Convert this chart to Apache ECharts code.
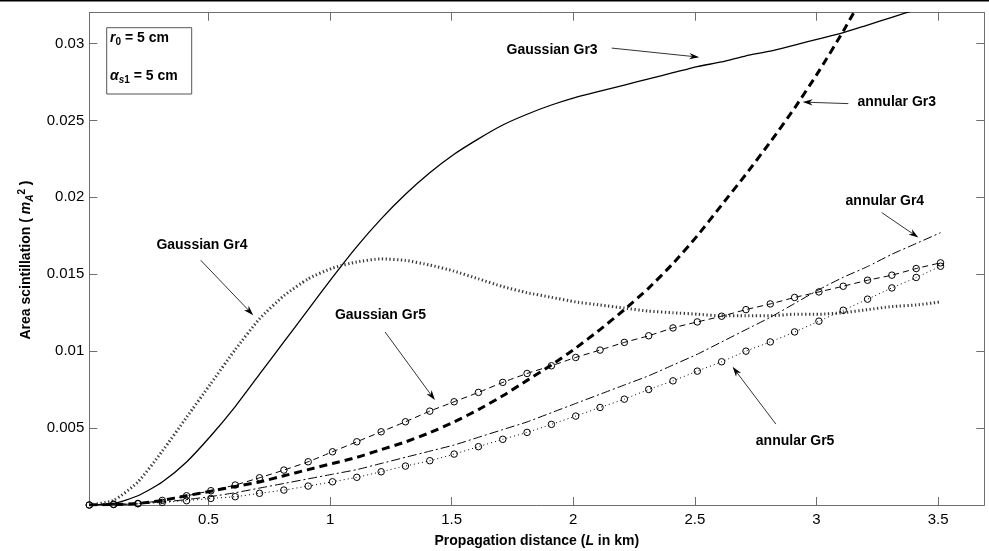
<!DOCTYPE html>
<html>
<head>
<meta charset="utf-8">
<script src="https://cdn.jsdelivr.net/npm/echarts@6/dist/echarts.min.js"></script>
<style>
  html, body { margin: 0; padding: 0; background: #fff; }
  #main { width: 989px; height: 551px; }
</style>
</head>
<body>
<div id="main"></div>
<script>
// propagation distance (km), one sample per 0.1 km
const xs = [0.01, 0.11, 0.21, 0.31, 0.41, 0.51, 0.61, 0.71, 0.81, 0.91,
  1.01, 1.11, 1.21, 1.31, 1.41, 1.51, 1.61, 1.71, 1.81, 1.91,
  2.01, 2.11, 2.21, 2.31, 2.41, 2.51, 2.61, 2.71, 2.81, 2.91,
  3.01, 3.11, 3.21, 3.31, 3.41, 3.51];

const gaussGr3 = [0, 0.0001, 0.0006, 0.0015, 0.0028, 0.0045, 0.0064, 0.0085, 0.0106, 0.0127,
  0.0148, 0.0168, 0.0186, 0.0202, 0.0216, 0.0228, 0.0238, 0.0247, 0.0254, 0.0260,
  0.0265, 0.0269, 0.0273, 0.0277, 0.0281, 0.0285, 0.0288, 0.0292, 0.0295, 0.0299,
  0.0303, 0.0307, 0.0312, 0.0317, 0.0322, 0.0327];

const annGr3 = [0, 0.00003, 0.0001, 0.0003, 0.0006, 0.0009, 0.0012, 0.0015, 0.0019, 0.0023,
  0.0027, 0.0031, 0.0036, 0.0041, 0.0047, 0.0054, 0.0062, 0.0071, 0.0081, 0.0091,
  0.0102, 0.0114, 0.0127, 0.0141, 0.0157, 0.0175, 0.0195, 0.0215, 0.0236, 0.0258,
  0.0282, 0.0308, 0.0336];

const gaussGr4 = [0, 0.0003, 0.0015, 0.0035, 0.0057, 0.0079, 0.0101, 0.0121, 0.0136, 0.0147,
  0.0154, 0.0158, 0.0160, 0.0159, 0.0156, 0.0152, 0.0147, 0.0142, 0.0138, 0.0135,
  0.0132, 0.0130, 0.0128, 0.0126, 0.0125, 0.0124, 0.0123, 0.0123, 0.0123, 0.0124,
  0.0124, 0.0125, 0.0127, 0.0129, 0.0130, 0.0132];

const annGr4 = [0, 0.00002, 0.00008, 0.0002, 0.00035, 0.00055, 0.0008, 0.0011, 0.0014, 0.0017,
  0.0020, 0.0023, 0.0027, 0.0031, 0.0035, 0.0039, 0.0044, 0.0049, 0.0054, 0.0060,
  0.0066, 0.0072, 0.0078, 0.0084, 0.0091, 0.0098, 0.0106, 0.0114, 0.0122, 0.0131,
  0.0140, 0.0148, 0.0155, 0.0163, 0.0170, 0.0177];

const gaussGr5 = [0, 0.00005, 0.0001, 0.0003, 0.0006, 0.00093, 0.0013, 0.00177, 0.00227, 0.00281,
  0.00346, 0.00411, 0.00476, 0.00541, 0.0061, 0.00671, 0.00732, 0.00797, 0.00855, 0.00905,
  0.00959, 0.01007, 0.01057, 0.0110, 0.01151, 0.0119, 0.01227, 0.0127, 0.01307, 0.01349,
  0.01385, 0.01422, 0.01461, 0.01494, 0.01537, 0.01574];

const annGr5 = [0, 0.00003, 0.00008, 0.00017, 0.00028, 0.00043, 0.00054, 0.00076, 0.00097, 0.00123,
  0.00151, 0.0018, 0.00216, 0.00253, 0.00288, 0.00331, 0.00379, 0.00427, 0.00472, 0.00524,
  0.00578, 0.00634, 0.00688, 0.00751, 0.00807, 0.0087, 0.00931, 0.0100, 0.0106, 0.01125,
  0.01195, 0.01266, 0.01338, 0.01411, 0.01479, 0.01552];

const xTicks = [0.5, 1, 1.5, 2, 2.5, 3, 3.5];
const yTicks = [0.005, 0.01, 0.015, 0.02, 0.025, 0.03];

// labels with arrows, anchored in data coordinates
const notes = [
  { text: 'Gaussian Gr3', at: [1.913, 0.02955], from: [2.158, 0.0297], to: [2.518, 0.02911] },
  { text: 'annular Gr3', at: [3.330, 0.02619], from: [3.131, 0.02609], to: [2.943, 0.02619] },
  { text: 'Gaussian Gr4', at: [0.473, 0.01688], from: [0.468, 0.01591], to: [0.684, 0.01234] },
  { text: 'Gaussian Gr5', at: [1.207, 0.01234], from: [1.226, 0.01125], to: [1.431, 0.00682] },
  { text: 'annular Gr4', at: [3.281, 0.01976], from: [3.268, 0.01901], to: [3.419, 0.01738] },
  { text: 'annular Gr5', at: [2.912, 0.00418], from: [2.833, 0.00526], to: [2.655, 0.00898] }
];

const FONT = "'Liberation Sans', Arial, sans-serif";
const AXIS_GREY = '#6e6e6e';

function pairs(ys) {
  return ys.map((y, i) => [xs[i], y]);
}

function line(name, ys, lineStyle, withCircles) {
  return {
    name: name,
    type: 'line',
    data: pairs(ys),
    smooth: 0.2,
    clip: true,
    showSymbol: !!withCircles,
    showAllSymbol: true,
    symbol: 'circle',
    symbolSize: 6.5,
    itemStyle: { color: 'rgba(0,0,0,0)', borderColor: '#000', borderWidth: 1 },
    lineStyle: Object.assign({ color: '#000', cap: 'butt' }, lineStyle),
    emphasis: { disabled: true },
    silent: true
  };
}

function xAxisDef(pos, labels) {
  return {
    type: 'value', position: pos, min: 0.01, max: 3.69,
    axisLine: { onZero: false, lineStyle: { color: AXIS_GREY, width: 1 } },
    axisTick: { inside: true, length: 8, customValues: xTicks, lineStyle: { color: AXIS_GREY } },
    axisLabel: { show: labels, customValues: xTicks, color: '#000', fontSize: 15, fontFamily: FONT, margin: 7 },
    splitLine: { show: false }
  };
}

function yAxisDef(pos, labels) {
  return {
    type: 'value', position: pos, min: 0, max: 0.032,
    axisLine: { onZero: false, lineStyle: { color: AXIS_GREY, width: 1 } },
    axisTick: { inside: true, length: 8, customValues: yTicks, lineStyle: { color: AXIS_GREY } },
    axisLabel: { show: labels, customValues: yTicks, color: '#000', fontSize: 15, fontFamily: FONT, margin: 5 },
    splitLine: { show: false }
  };
}

const chart = echarts.init(document.getElementById('main'));

const option = {
  animation: false,
  backgroundColor: '#fff',
  grid: { left: 89.3, right: 4.7, top: 12.7, bottom: 46 },
  xAxis: [xAxisDef('bottom', true), xAxisDef('top', false)],
  yAxis: [yAxisDef('left', true), yAxisDef('right', false)],
  series: [
    line('Gaussian Gr3', gaussGr3, { width: 1.3, type: 'solid' }),
    line('annular Gr3', annGr3, { width: 3, type: [8, 5] }),
    line('Gaussian Gr4', gaussGr4, { width: 3, type: [1.3, 2.5], color: '#3a3a3a' }),
    line('annular Gr4', annGr4, { width: 1, type: [9, 3, 2, 3] }),
    line('Gaussian Gr5', gaussGr5, { width: 1, type: [6, 4] }, true),
    line('annular Gr5', annGr5, { width: 1, type: [1, 3] }, true)
  ]
};
chart.setOption(option);

// static decorations: frame line at the very top, parameter box, axis titles
const boldFont = 'bold 14px ' + FONT;
const graphics = [
  { type: 'rect', shape: { x: 0, y: 0, width: 989, height: 1.6 }, style: { fill: '#000' }, silent: true },
  { type: 'rect', shape: { x: 106.7, y: 27.7, width: 85, height: 66.3 },
    style: { fill: '#fff', stroke: '#555', lineWidth: 1 }, silent: true },
  { type: 'text', x: 110, y: 38, silent: true,
    style: {
      text: '{i|r}{sub|0}{b| = 5 cm}', verticalAlign: 'middle', fill: '#000',
      rich: {
        i: { fontFamily: FONT, fontSize: 14, fontWeight: 'bold', fontStyle: 'italic', fill: '#000' },
        b: { fontFamily: FONT, fontSize: 14, fontWeight: 'bold', fill: '#000' },
        sub: { fontFamily: FONT, fontSize: 10, fontWeight: 'bold', verticalAlign: 'bottom', padding: [8, 0, 0, 0], fill: '#000' }
      }
    } },
  { type: 'text', x: 110, y: 76, silent: true,
    style: {
      text: '{i|\u03b1}{subi|s}{sub|1}{b| = 5 cm}', verticalAlign: 'middle', fill: '#000',
      rich: {
        i: { fontFamily: FONT, fontSize: 14, fontWeight: 'bold', fontStyle: 'italic', fill: '#000' },
        b: { fontFamily: FONT, fontSize: 14, fontWeight: 'bold', fill: '#000' },
        subi: { fontFamily: FONT, fontSize: 10, fontWeight: 'bold', fontStyle: 'italic', verticalAlign: 'bottom', padding: [8, 0, 0, 0], fill: '#000' },
        sub: { fontFamily: FONT, fontSize: 10, fontWeight: 'bold', verticalAlign: 'bottom', padding: [8, 0, 0, 0], fill: '#000' }
      }
    } },
  { type: 'text', x: 536.8, y: 541, silent: true,
    style: {
      text: '{b|Propagation distance (}{i|L}{b| in km)}', align: 'center', verticalAlign: 'middle',
      rich: {
        b: { fontFamily: FONT, fontSize: 14, fontWeight: 'bold', fill: '#000' },
        i: { fontFamily: FONT, fontSize: 14, fontWeight: 'bold', fontStyle: 'italic', fill: '#000' }
      }
    } },
  { type: 'text', x: 26, y: 260, rotation: Math.PI / 2, silent: true,
    style: {
      text: '{b|Area scintillation ( }{i|m}{sub|A}{sup|2}{b| )}', align: 'center', verticalAlign: 'middle',
      rich: {
        b: { fontFamily: FONT, fontSize: 14, fontWeight: 'bold', fill: '#000' },
        i: { fontFamily: FONT, fontSize: 14, fontWeight: 'bold', fontStyle: 'italic', fill: '#000' },
        sub: { fontFamily: FONT, fontSize: 10, fontWeight: 'bold', fontStyle: 'italic', verticalAlign: 'bottom', padding: [8, 0, 0, 0], fill: '#000' },
        sup: { fontFamily: FONT, fontSize: 10, fontWeight: 'bold', verticalAlign: 'top', padding: [0, 0, 8, 0], fill: '#000' }
      }
    } }
];

// annotation texts and arrows placed through the axes
notes.forEach(n => {
  const p = chart.convertToPixel({ xAxisIndex: 0, yAxisIndex: 0 }, n.at);
  const a = chart.convertToPixel({ xAxisIndex: 0, yAxisIndex: 0 }, n.from);
  const b = chart.convertToPixel({ xAxisIndex: 0, yAxisIndex: 0 }, n.to);
  graphics.push({ type: 'text', x: p[0], y: p[1], silent: true,
    style: { text: n.text, font: boldFont, fill: '#000', align: 'center', verticalAlign: 'middle' } });
  const dx = b[0] - a[0], dy = b[1] - a[1];
  const len = Math.sqrt(dx * dx + dy * dy);
  const ux = dx / len, uy = dy / len;
  const L = 10, W = 3.2, notch = 7;
  const baseX = b[0] - ux * L, baseY = b[1] - uy * L;
  graphics.push({ type: 'line', silent: true,
    shape: { x1: a[0], y1: a[1], x2: b[0] - ux * notch, y2: b[1] - uy * notch },
    style: { stroke: '#000', lineWidth: 0.8 } });
  graphics.push({ type: 'polygon', silent: true,
    shape: { points: [
      [b[0], b[1]],
      [baseX - uy * W, baseY + ux * W],
      [b[0] - ux * notch, b[1] - uy * notch],
      [baseX + uy * W, baseY - ux * W]
    ] },
    style: { fill: '#000' } });
});

chart.setOption({ graphic: graphics });
</script>
</body>
</html>
